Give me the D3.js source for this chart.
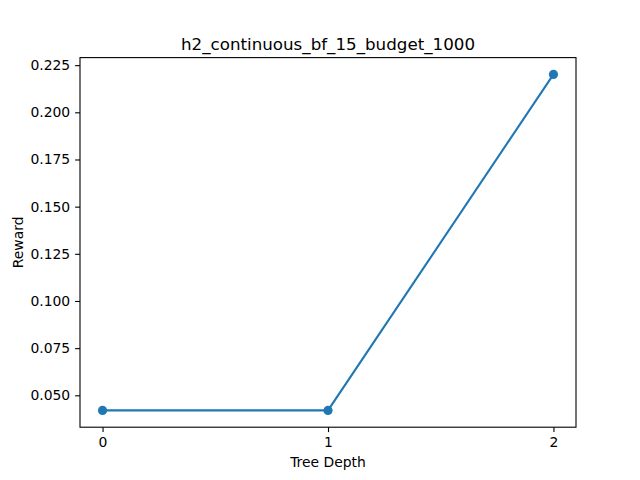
<!DOCTYPE html>
<html>
<head>
<meta charset="utf-8">
<script src="https://cdn.jsdelivr.net/npm/d3@7"></script>
<style>
  body { margin: 0; background: #fff; }
  text { font-family: "DejaVu Sans", sans-serif; fill: #000; }
</style>
</head>
<body>
<script>
var depths = [0, 1, 2];
var rewards = [0.042, 0.042, 0.2201];
var yTicks = [0.050, 0.075, 0.100, 0.125, 0.150, 0.175, 0.200, 0.225];
var chartTitle = "h2_continuous_bf_15_budget_1000";

window.onload = drawChart();

function drawChart(){
    var w = 640, h = 480;
    var left = 80, right = 576, top = 57.6, bottom = 427.2;

    var svg = d3.select("body")
        .append("svg")
        .attr("width", w)
        .attr("height", h);

    // matplotlib style 5% margins
    var xPad = (d3.max(depths) - d3.min(depths)) * 0.05;
    var yMin = d3.min(rewards), yMax = d3.max(rewards);
    var yPad = (yMax - yMin) * 0.05;

    var x = d3.scaleLinear()
        .domain([d3.min(depths) - xPad, d3.max(depths) + xPad])
        .range([left, right]);
    var y = d3.scaleLinear()
        .domain([yMin - yPad, yMax + yPad])
        .range([bottom, top]);

    var xAxis = svg.append("g")
        .attr("transform", "translate(0," + bottom + ")")
        .call(d3.axisBottom(x).tickValues(depths).tickFormat(d3.format("d")).tickSizeOuter(0).tickSize(4.9).tickPadding(4.9));
    var yAxis = svg.append("g")
        .attr("transform", "translate(" + left + ",0)")
        .call(d3.axisLeft(y).tickValues(yTicks).tickFormat(d3.format(".3f")).tickSizeOuter(0).tickSize(4.9).tickPadding(4.9));

    [xAxis, yAxis].forEach(function(g){
        g.select(".domain").remove();
        g.selectAll(".tick line").attr("stroke", "#000").attr("stroke-width", 1.1);
        g.selectAll(".tick text").style("font-size", "13.9px").attr("font-family", "DejaVu Sans");
    });

    // frame
    svg.append("rect")
        .attr("x", left).attr("y", top)
        .attr("width", right - left).attr("height", bottom - top)
        .attr("fill", "none").attr("stroke", "#000").attr("stroke-width", 1.1);

    var line = d3.line()
        .x(function(d, i){ return x(depths[i]); })
        .y(function(d){ return y(d); });

    svg.append("path")
        .datum(rewards)
        .attr("d", line)
        .attr("fill", "none")
        .attr("stroke", "#1f77b4")
        .attr("stroke-width", 2.1);

    svg.selectAll(".pt")
        .data(rewards)
        .enter()
        .append("circle")
        .attr("class", "pt")
        .attr("cx", function(d, i){ return x(depths[i]); })
        .attr("cy", function(d){ return y(d); })
        .attr("r", 4.6)
        .attr("fill", "#1f77b4");

    svg.append("text")
        .attr("x", (left + right) / 2).attr("y", top - 8)
        .attr("text-anchor", "middle")
        .style("font-size", "16.7px")
        .text(chartTitle);

    svg.append("text")
        .attr("x", (left + right) / 2).attr("y", 467)
        .attr("text-anchor", "middle")
        .style("font-size", "13.9px")
        .text("Tree Depth");

    svg.append("text")
        .attr("transform", "translate(23," + (top + bottom) / 2 + ") rotate(-90)")
        .attr("text-anchor", "middle")
        .style("font-size", "13.9px")
        .text("Reward");
}
</script>
</body>
</html>
